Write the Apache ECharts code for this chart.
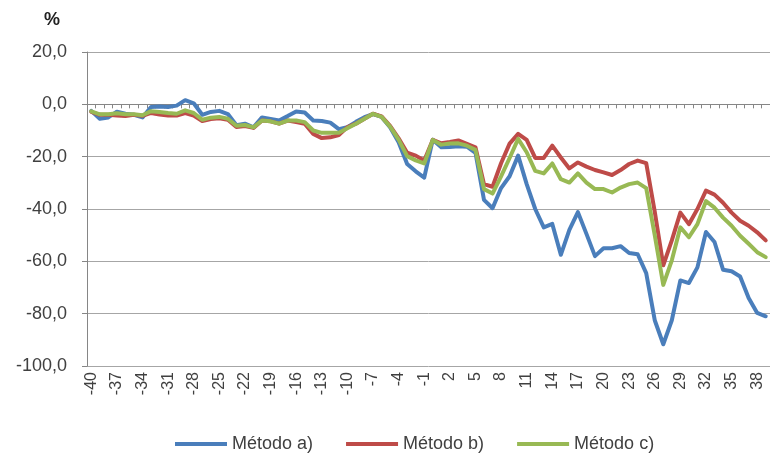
<!DOCTYPE html>
<html>
<head>
<meta charset="utf-8">
<script src="https://cdn.jsdelivr.net/npm/echarts@6/dist/echarts.min.js"></script>
<style>
  html, body { margin: 0; padding: 0; background: #fff; }
  #chart { width: 770px; height: 455px; }
</style>
</head>
<body>
<div id="chart"></div>
<script>
// Period index relative to the reference point (-40 .. 39)
const periods = [];
for (let p = -40; p <= 39; p++) periods.push(String(p));

const seriesNames = ['Método a)', 'Método b)', 'Método c)'];

const metodoA = [
  -2.5, -5.5, -5, -2.8, -3.6, -4, -5, -1, -0.8, -1,
  -0.5, 1.6, 0.4, -4, -2.9, -2.5, -3.7, -8, -7.4, -8.8,
  -5, -5.6, -6.2, -4.5, -2.7, -3.1, -6.2, -6.4, -7, -9.5,
  -8.7, -6.7, -4.9, -3.7, -4.8, -8.8, -14.5, -22.8, -25.6, -28,
  -13.5, -16.4, -16.3, -16, -16.2, -18.5, -36.5, -39.7, -32, -27.5,
  -19.6, -30.5, -40, -47, -45.7, -57.5, -48, -41.2, -49.5, -58,
  -55, -55, -54.2, -56.8, -57.3, -64.5, -82.5, -91.7, -82.5, -67.3,
  -68.3, -62.3, -48.8, -52.6, -63.2, -63.8, -65.8, -74, -79.7, -81
];

const metodoB = [
  -2.9, -4, -4, -4.3, -4.5, -4, -4.4, -3.3, -3.9, -4.3,
  -4.3, -3.3, -4.3, -6.4, -5.6, -5.3, -5.9, -8.7, -8.3, -9,
  -6.2, -6.5, -7.4, -6.2, -6.8, -7.4, -11.3, -12.9, -12.6, -11.7,
  -8.7, -7.4, -5.5, -3.6, -4.6, -8.2, -13, -18.5, -19.6, -21.5,
  -13.6, -14.9, -14.4, -13.8, -15.1, -16.4, -30.5, -31.5, -22.5, -15,
  -11.3, -13.6, -20.5, -20.5, -15.8, -20.3, -24.5, -22.2, -23.8, -25.1,
  -26, -27, -25.1, -22.8, -21.5, -22.5, -41, -61.5, -52, -41.4,
  -45.8, -40, -33, -34.5, -37.6, -41.4, -44.5, -46.4, -48.9, -52
];

const metodoC = [
  -2.7, -3.8, -3.8, -3.4, -3.8, -3.8, -4.2, -2.6, -2.9, -3.3,
  -3.6, -2.3, -3.3, -5.9, -5.1, -4.8, -5.5, -8.2, -7.9, -8.8,
  -6.2, -6.5, -7.4, -6.2, -6.2, -6.8, -10, -10.9, -10.9, -10.9,
  -9.1, -7.4, -5.5, -3.6, -4.8, -8.5, -13.5, -19.8, -21.4, -22.6,
  -13.6, -15.4, -15, -14.9, -15.8, -17.4, -32.4, -34.1, -27.5, -20.5,
  -13.2, -18.3, -25.4, -26.4, -22.6, -28.6, -29.9, -26.4, -29.9, -32.4,
  -32.4, -33.7, -31.8, -30.5, -29.9, -32, -50, -69, -59.6, -47,
  -50.8, -45.8, -37, -39.5, -43.3, -46.4, -50.2, -53.3, -56.5, -58.4
];

const colors = ['#4a7ebb', '#be4b48', '#98b954'];
const font = "'Liberation Sans', Arial, sans-serif";

const chart = echarts.init(document.getElementById('chart'), null, { renderer: 'canvas' });

function lineSeries(name, data, color) {
  return {
    name: name,
    type: 'line',
    data: data,
    symbol: 'none',
    smooth: false,
    lineStyle: { width: 4, color: color, join: 'round', cap: 'round' },
    itemStyle: { color: color },
    emphasis: { disabled: true }
  };
}

chart.setOption({
  animation: false,
  backgroundColor: '#ffffff',
  textStyle: { fontFamily: font },
  grid: { left: 87, top: 52, bottom: 89, right: -4.4, containLabel: false },
  graphic: [{
    type: 'text',
    left: 44, top: 11,
    style: { text: '%', font: "bold 18px " + font, fill: '#222' }
  }],
  legend: {
    top: 430,
    left: 170,
    itemWidth: 52,
    itemHeight: 4,
    itemGap: 33,
    icon: 'rect',
    textStyle: { fontSize: 18, color: '#404040', fontFamily: font },
    data: seriesNames
  },
  xAxis: {
    type: 'category',
    data: periods,
    boundaryGap: true,
    axisLine: { lineStyle: { color: '#868686', width: 1 } },
    axisTick: { show: true, interval: 0, length: 4, alignWithLabel: false, lineStyle: { color: '#868686' } },
    axisLabel: {
      interval: 2,
      rotate: 90,
      margin: 6,
      fontSize: 16,
      color: '#404040',
      fontFamily: font
    },
    splitLine: { show: false }
  },
  yAxis: {
    type: 'value',
    min: -100,
    max: 20,
    interval: 20,
    axisLine: { show: true, lineStyle: { color: '#868686', width: 1 } },
    axisTick: { show: true, length: 5, lineStyle: { color: '#868686' } },
    axisLabel: {
      margin: 20,
      fontSize: 18,
      color: '#404040',
      fontFamily: font,
      formatter: function (v) { return v.toFixed(1).replace('.', ','); }
    },
    splitLine: { show: true, lineStyle: { color: '#a6a6a6', width: 1 } }
  },
  series: [
    lineSeries(seriesNames[0], metodoA, colors[0]),
    lineSeries(seriesNames[1], metodoB, colors[1]),
    lineSeries(seriesNames[2], metodoC, colors[2])
  ]
});
</script>
</body>
</html>
